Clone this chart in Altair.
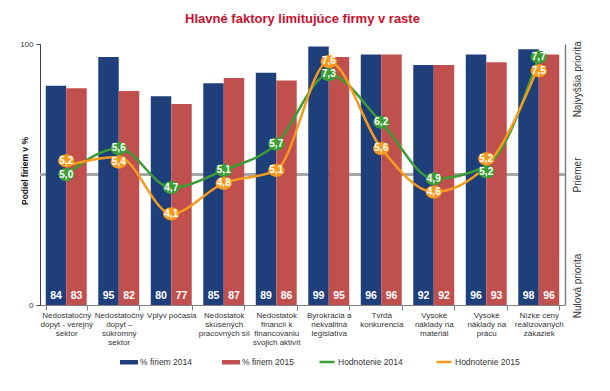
import altair as alt
import pandas as pd

categories = [
    "Nedostatočný|dopyt - verejný|sektor",
    "Nedostatočný|dopyt –|súkromný|sektor",
    "Vplyv počasia",
    "Nedostatok|skúsených|pracovných síl",
    "Nedostatok|financií k|financovaniu|svojich aktivít",
    "Byrokracia a|nekvalitná|legislatíva",
    "Tvrdá|konkurencia",
    "Vysoké|náklady na|materiál",
    "Vysoké|náklady na|prácu",
    "Nízke ceny|realizovaných|zákaziek",
]
share_2014 = [84, 95, 80, 85, 89, 99, 96, 92, 96, 98]
share_2015 = [83, 82, 77, 87, 86, 95, 96, 92, 93, 96]
rating_2014 = [5.0, 5.6, 4.7, 5.1, 5.7, 7.3, 6.2, 4.9, 5.2, 7.7]
rating_2015 = [5.2, 5.4, 4.1, 4.8, 5.1, 7.6, 5.6, 4.6, 5.2, 7.5]
bar_series = ["% firiem 2014", "% firiem 2015"]
line_series = ["Hodnotenie 2014", "Hodnotenie 2015"]
bar_colors = ["#1f3f7a", "#c0504d"]
line_colors = ["#3c9c35", "#f59a1d"]
title_text = "Hlavné faktory limitujúce firmy v raste"
y_title = "Podiel firiem v %"

W, H = 525, 261
RATING_DOMAIN = [2, 8]
PX_PER_UNIT = H / (RATING_DOMAIN[1] - RATING_DOMAIN[0])

bars = pd.DataFrame({
    "category": categories * 2,
    "series": [bar_series[0]] * len(categories) + [bar_series[1]] * len(categories),
    "value": share_2014 + share_2015,
})


def nudge_px(own, other, is_2015):
    # push the labels of nearly equal ratings apart (in pixels, + = down)
    out = []
    for a, b in zip(own, other):
        if abs(a - b) > 0.25:
            out.append(0)
        elif a == b:
            out.append(-7 if is_2015 else 6)
        elif is_2015:
            out.append(-5 if a > b else 5)
        else:
            out.append(0)
    return out


lines = pd.DataFrame({
    "category": categories * 2,
    "series": [line_series[0]] * len(categories) + [line_series[1]] * len(categories),
    "rating": rating_2014 + rating_2015,
    "nudge": nudge_px(rating_2014, rating_2015, False) + nudge_px(rating_2015, rating_2014, True),
})
lines["label"] = lines["rating"].map(lambda v: f"{v:.1f}".replace(".", ","))
lines["label_pos"] = lines["rating"] - lines["nudge"] / PX_PER_UNIT

FONT = "Liberation Sans"

x_enc = alt.X(
    "category:N",
    sort=categories,
    scale=alt.Scale(domain=categories, paddingInner=0.22, paddingOuter=0.11),
    axis=alt.Axis(
        title=None, labelExpr="split(datum.label, '|')", labelAngle=0,
        labelFontSize=8, labelLineHeight=9, labelColor="#333333", labelFont=FONT,
        labelBaseline="top", labelLimit=0, labelPadding=1,
        domainColor="#808080", tickColor="#808080", tickBand="extent", tickSize=5,
        domainWidth=1.2,
    ),
)

y_pct = alt.Y(
    "value:Q",
    scale=alt.Scale(domain=[0, 100], nice=False),
    axis=alt.Axis(
        values=[0, 100], title=y_title, titleFontSize=8.5, titleFont=FONT,
        titleFontWeight="bold", titleColor="#111111", titleX=-11, titleY=H / 2 - 4,
        labelFontSize=8, labelColor="#333333", labelFont=FONT, grid=False,
        tickSize=4, domainColor="#404040", tickColor="#404040", labelPadding=3,
    ),
)

rating_axis = alt.Axis(
    orient="right", values=[2.45, 5, 7.2], title=None, grid=False, ticks=False,
    labelExpr="datum.value > 6 ? 'Najvyššia priorita' : (datum.value > 4 ? 'Priemer' : 'Nulová priorita')",
    labelAngle=270, labelAlign="center", labelBaseline="top", labelPadding=7,
    labelFontSize=10, labelFont=FONT, labelColor="#333333",
    labelOverlap=False, labelFlush=False, domainColor="#808080", domainWidth=1.5,
)
rating_scale = alt.Scale(domain=RATING_DOMAIN, nice=False, zero=False)

avg_rule = alt.Chart(bars).mark_rule(color="#a6a6a6", strokeWidth=1.5).encode(
    y=alt.datum(50)
)

bar_layer = alt.Chart(bars).mark_bar().encode(
    x=x_enc,
    xOffset=alt.XOffset("series:N", sort=bar_series),
    y=y_pct,
    color=alt.Color(
        "series:N",
        scale=alt.Scale(domain=bar_series, range=bar_colors),
        legend=alt.Legend(
            title=None, orient="none", legendX=80, legendY=309, direction="horizontal",
            symbolType="M-1,-0.25H1V0.25H-1Z", symbolSize=324, symbolStrokeWidth=0,
            labelFontSize=8.5, labelFont=FONT, labelColor="#333333", columnPadding=30,
            labelOffset=2,
        ),
    ),
)

bar_text = alt.Chart(bars).mark_text(
    color="white", fontWeight="bold", fontSize=10.5, font=FONT, dy=-9
).encode(
    x=x_enc,
    xOffset=alt.XOffset("series:N", sort=bar_series),
    y=alt.datum(0),
    text=alt.Text("value:Q"),
)

layer_a = alt.layer(avg_rule, bar_layer, bar_text)

line_layer = alt.Chart(lines).mark_line(strokeWidth=2.5, interpolate="monotone").encode(
    x=x_enc,
    y=alt.Y("rating:Q", scale=rating_scale, axis=rating_axis),
    stroke=alt.Stroke(
        "series:N",
        scale=alt.Scale(domain=line_series, range=line_colors),
        legend=alt.Legend(
            title=None, orient="none", legendX=278, legendY=309, direction="horizontal",
            symbolType="stroke", symbolSize=225, symbolStrokeWidth=2.5,
            labelFontSize=8.5, labelFont=FONT, labelColor="#333333", columnPadding=28,
            labelOffset=2,
        ),
    ),
)

marker_layer = alt.Chart(lines).mark_point(
    filled=True, opacity=1, size=170, strokeWidth=0,
    shape="M-1.25,0A1.25,1,0,1,0,1.25,0A1.25,1,0,1,0,-1.25,0Z",
).encode(
    x=x_enc,
    y=alt.Y("label_pos:Q", scale=rating_scale, axis=rating_axis),
    fill=alt.Fill("series:N", scale=alt.Scale(domain=line_series, range=line_colors), legend=None),
)

marker_text = alt.Chart(lines).mark_text(
    color="white", fontWeight="bold", fontSize=10, font=FONT
).encode(
    x=x_enc,
    y=alt.Y("label_pos:Q", scale=rating_scale, axis=rating_axis),
    text="label:N",
)

layer_b = alt.layer(line_layer, marker_layer, marker_text)

chart = alt.layer(layer_a, layer_b).resolve_scale(y="independent").properties(
    width=W,
    height=H,
    title=alt.Title(
        title_text, font=FONT, fontSize=13,
        fontWeight="bold", color="#c8102e", anchor="middle", offset=14,
    ),
    autosize=alt.AutoSizeParams(type="none"),
    padding={"left": 32, "top": 36, "right": 37, "bottom": 70},
).configure_view(stroke=None)

chart.save("out.html", embed_options={"renderer": "svg", "actions": False})
